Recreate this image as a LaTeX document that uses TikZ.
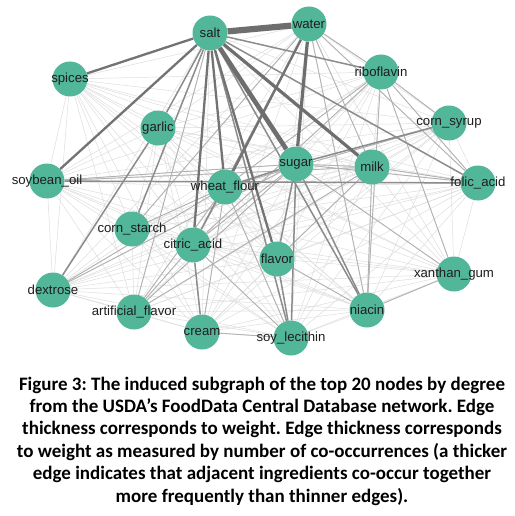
\documentclass[tikz,border=0pt]{standalone}
\usepackage{fontspec}
\setmainfont{Liberation Sans}
\newfontfamily\capfont{Carlito}
\usetikzlibrary{backgrounds}
\definecolor{nodeteal}{HTML}{52B699}
\definecolor{labelink}{HTML}{1E1E1E}
\frenchspacing
\begin{document}
\begin{tikzpicture}[x=1pt,y=-1pt,
  vert/.style={circle,fill=nodeteal,minimum size=35pt,inner sep=0pt},
  lab/.style={font=\fontsize{13.2}{13}\selectfont,text=labelink,inner sep=0pt},
  ezero/.style={line width=0.5pt,draw=black!13},
  eone/.style={line width=0.9pt,draw=black!30},
  etwo/.style={line width=1.5pt,draw=black!45},
  ethree/.style={line width=2.3pt,draw=black!55},
  efour/.style={line width=3.2pt,draw=black!57},
  efive/.style={line width=4.6pt,draw=black!57},
  esix/.style={line width=6.2pt,draw=black!57}]
\useasboundingbox (0,0) rectangle (514,516);
% vertices
\node[vert] (salt) at (210,33) {};
\node[vert] (water) at (309,24) {};
\node[vert] (spices) at (70,79) {};
\node[vert] (riboflavin) at (381,72) {};
\node[vert] (garlic) at (158,128) {};
\node[vert] (corn_syrup) at (449,123) {};
\node[vert] (sugar) at (296,164) {};
\node[vert] (milk) at (372,167) {};
\node[vert] (soybean_oil) at (47,181) {};
\node[vert] (folic_acid) at (478,183) {};
\node[vert] (wheat_flour) at (225,187) {};
\node[vert] (corn_starch) at (132,229) {};
\node[vert] (citric_acid) at (193,245) {};
\node[vert] (flavor) at (277,259) {};
\node[vert] (xanthan_gum) at (454,274) {};
\node[vert] (dextrose) at (53,290) {};
\node[vert] (artificial_flavor) at (134,312) {};
\node[vert] (niacin) at (367,310) {};
\node[vert] (cream) at (202,332) {};
\node[vert] (soy_lecithin) at (291,338) {};
% edges
\begin{scope}[on background layer]
\fill[white] (0,0) rectangle (514,516);
\foreach \a [count=\i] in {salt,water,spices,riboflavin,garlic,corn_syrup,sugar,milk,soybean_oil,folic_acid,wheat_flour,corn_starch,citric_acid,flavor,xanthan_gum,dextrose,artificial_flavor,niacin,cream,soy_lecithin}{
  \foreach \b [count=\j] in {salt,water,spices,riboflavin,garlic,corn_syrup,sugar,milk,soybean_oil,folic_acid,wheat_flour,corn_starch,citric_acid,flavor,xanthan_gum,dextrose,artificial_flavor,niacin,cream,soy_lecithin}{
    \ifnum\j>\i \draw[ezero] (\a) -- (\b); \fi
  }
}
\foreach \a/\b in {sugar/citric_acid,sugar/milk,sugar/soybean_oil,sugar/folic_acid,sugar/artificial_flavor,water/milk,water/riboflavin,water/niacin,water/folic_acid,milk/folic_acid,riboflavin/folic_acid,riboflavin/niacin,riboflavin/wheat_flour,riboflavin/citric_acid,citric_acid/artificial_flavor,wheat_flour/citric_acid,wheat_flour/corn_starch,soybean_oil/milk,milk/niacin,xanthan_gum/sugar,xanthan_gum/riboflavin,xanthan_gum/niacin,artificial_flavor/milk,corn_starch/water,artificial_flavor/wheat_flour,dextrose/sugar,dextrose/wheat_flour,soy_lecithin/citric_acid,soy_lecithin/wheat_flour,soy_lecithin/cream,niacin/flavor,cream/wheat_flour,corn_syrup/wheat_flour,salt/artificial_flavor,corn_syrup/riboflavin,milk/flavor}
  \draw[eone] (\a) -- (\b);
\foreach \a/\b in {salt/riboflavin,salt/folic_acid,salt/niacin,salt/soy_lecithin,salt/garlic,salt/corn_starch,sugar/flavor,sugar/soy_lecithin,sugar/niacin,sugar/wheat_flour,water/citric_acid,garlic/dextrose,soybean_oil/folic_acid,flavor/soy_lecithin,citric_acid/cream,sugar/corn_syrup}
  \draw[etwo] (\a) -- (\b);
\foreach \a/\b in {salt/wheat_flour,salt/flavor,salt/citric_acid,salt/spices,salt/soybean_oil,water/wheat_flour}
  \draw[ethree] (\a) -- (\b);
\draw[efour] (salt) -- (milk);
\draw[efour] (water) -- (sugar);
\draw[efive] (salt) -- (sugar);
\draw[esix] (salt) -- (water);
\end{scope}
% labels
\foreach \n/\t in {salt/salt,water/water,spices/spices,riboflavin/riboflavin,garlic/garlic,corn_syrup/corn\_syrup,sugar/sugar,milk/milk,soybean_oil/soybean\_oil,folic_acid/folic\_acid,wheat_flour/wheat\_flour,corn_starch/corn\_starch,citric_acid/citric\_acid,flavor/flavor,xanthan_gum/xanthan\_gum,dextrose/dextrose,artificial_flavor/artificial\_flavor,niacin/niacin,cream/cream,soy_lecithin/soy\_lecithin}
  \node[lab] (l-\n) at (\n) {\t};
% caption
\node[font=\capfont\bfseries\fontsize{19}{22.4}\selectfont,align=center,inner sep=0pt,anchor=north] (caption) at (262,376.5)
{Figure 3: The induced subgraph of the top 20 nodes by degree\\
from the USDA’s FoodData Central Database network. Edge\\
thickness corresponds to weight. Edge thickness corresponds\\
to weight as measured by number of co-occurrences (a thicker\\
edge indicates that adjacent ingredients co-occur together\\
more frequently than thinner edges).};
\end{tikzpicture}
\end{document}
